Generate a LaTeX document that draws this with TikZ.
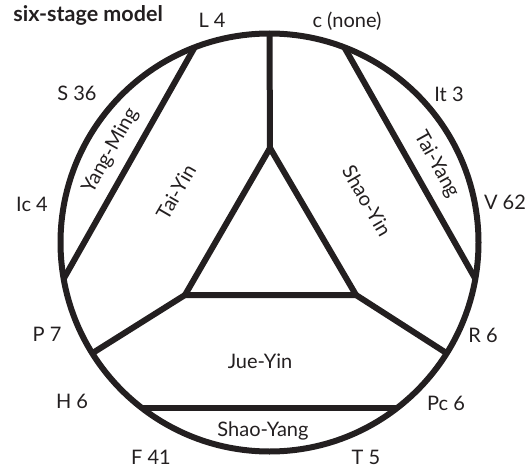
\documentclass[tikz,border=0pt]{standalone}
\usepackage{fontspec}
\setmainfont{Lato}
\usetikzlibrary{calc}
\definecolor{ink}{HTML}{231F20}
\begin{document}
\begin{tikzpicture}[x=1pt,y=-1pt,
  ln/.style={line width=6pt, draw=ink},
  lbl/.style={inner sep=0pt, text=ink, font=\fontsize{20}{22}\selectfont, text height=14.4pt, text depth=0pt}]
\useasboundingbox (0,0) rectangle (530,468);
\coordinate (C) at (269.5,242.5);
\def\R{209}
\coordinate (top) at ($(C)+(-90:\R)$);
\coordinate (apex) at (270,148);
\coordinate (bl) at (185,295);
\coordinate (br) at (356,295);
\coordinate (ymA) at ($(C)+(-111:\R)$);
\coordinate (ymB) at ($(C)+(-190:\R)$);
\coordinate (tyA) at ($(C)+(-69:\R)$);
\coordinate (tyB) at ($(C)+(10:\R)$);
\coordinate (pL) at ($(C)+(-212:\R)$);
\coordinate (pR) at ($(C)+(32:\R)$);
\coordinate (hL) at ($(C)+(-232.4:\R)$);
\coordinate (hR) at ($(C)+(52.4:\R)$);
\draw[ln] (C) circle[radius=\R];
\draw[ln] (top) -- (apex);
\draw[ln, line join=miter] (apex) -- (bl) -- (br) -- cycle;
\draw[ln] (ymA) -- (ymB);
\draw[ln] (tyA) -- (tyB);
\draw[ln] (pL) -- (bl);
\draw[ln] (pR) -- (br);
\draw[ln] (hL) -- (hR);
\node[anchor=base east, text=ink, inner sep=0pt, font=\bfseries\fontsize{21.5}{23}\selectfont] (title) at (163,22) {six-stage model};
\node[lbl] (L4) at (212,20) {L 4};
\node[lbl] (c) at (347,20) {c (none)};
\node[lbl] (S36) at (77,93) {S 36};
\node[lbl] (It3) at (449,94) {It 3};
\node[lbl] (Ic4) at (32,204) {Ic 4};
\node[lbl] (V62) at (505,202) {V 62};
\node[lbl] (P7) at (47,334) {P 7};
\node[lbl] (R6) at (483,335) {R 6};
\node[lbl] (H6) at (72,401) {H 6};
\node[lbl] (Pc6) at (446,403) {Pc 6};
\node[lbl] (F41) at (151,457) {F 41};
\node[lbl] (T5) at (366,457) {T 5};
\node[lbl] (jy) at (260,361) {Jue-Yin};
\node[lbl] (sy) at (263,429) {Shao-Yang};
\node[lbl, rotate=61] (ym) at (109,150) {Yang-Ming};
\node[lbl, rotate=60] (ti) at (176,192) {Tai-Yin};
\node[lbl, rotate=-61] (tg) at (438,164) {Tai-Yang};
\node[lbl, rotate=-60] (si) at (367,201) {Shao-Yin};
\end{tikzpicture}
\end{document}
